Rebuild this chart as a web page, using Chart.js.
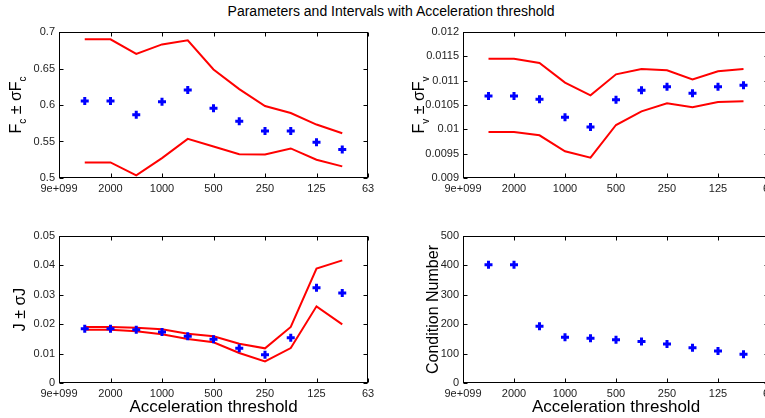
<!DOCTYPE html>
<html>
<head>
<meta charset="utf-8">
<script src="https://cdn.jsdelivr.net/npm/chart.js@4"></script>
<style>
  html, body { margin: 0; padding: 0; background: #fff; overflow: hidden; }
  body { width: 765px; height: 418px; position: relative; font-family: "Liberation Sans", Arial, sans-serif; }
  canvas { position: absolute; }
  #title { position: absolute; left: 0; width: 782px; top: 3px; text-align: center; font-size: 14px; line-height: 16px; color: #000; }
</style>
</head>
<body>
<div id="title">Parameters and Intervals with Acceleration threshold</div>
<canvas id="fc-chart" width="380" height="178" style="left:0;top:20px"></canvas>
<canvas id="fv-chart" width="377" height="178" style="left:404px;top:20px"></canvas>
<canvas id="j-chart" width="380" height="194" style="left:0;top:224px"></canvas>
<canvas id="cond-chart" width="377" height="194" style="left:404px;top:224px"></canvas>
<script>
const FONT = '"Liberation Sans", Arial, sans-serif';

// x axis: tick labels at every second step, points sit on the half steps
const tickLabels = ["9e+099", "2000", "1000", "500", "250", "125", "63"];
const steps = [1, 2, 3, 4, 5, 6, 7, 8, 9, 10, 11];

const fcMean  = [0.6055, 0.6055, 0.5868, 0.6045, 0.6205, 0.5955, 0.5777, 0.5645, 0.5645, 0.5490, 0.5390];
const fcUpper = [0.6900, 0.6900, 0.6700, 0.6830, 0.6886, 0.6486, 0.6218, 0.5986, 0.5890, 0.5732, 0.5614];
const fcLower = [0.5214, 0.5214, 0.5036, 0.5273, 0.5536, 0.5432, 0.5327, 0.5323, 0.5405, 0.5250, 0.5159];

const fvMean  = [0.010685, 0.010685, 0.010616, 0.010247, 0.010048, 0.010610, 0.010801, 0.010877, 0.010740, 0.010877, 0.010904];
const fvUpper = [0.011452, 0.011452, 0.011363, 0.010959, 0.010699, 0.011130, 0.011240, 0.011212, 0.011027, 0.011192, 0.011240];
const fvLower = [0.009945, 0.009945, 0.009877, 0.009548, 0.009418, 0.010089, 0.010370, 0.010534, 0.010452, 0.010562, 0.010575];

const jMean  = [0.01848, 0.01848, 0.01814, 0.01735, 0.01587, 0.01485, 0.01179, 0.00964, 0.01542, 0.03243, 0.03061];
const jUpper = [0.01905, 0.01905, 0.01882, 0.01825, 0.01678, 0.01587, 0.01338, 0.01179, 0.01905, 0.03889, 0.04172];
const jLower = [0.01814, 0.01814, 0.01757, 0.01655, 0.01497, 0.01383, 0.01020, 0.00737, 0.01190, 0.02608, 0.01995];

const condNum = [402, 402, 193, 156, 152, 147, 141, 133, 120, 109, 98];

function points(values) {
    return values.map((v, i) => ({ x: steps[i], y: v }));
}

// matlab style box with inward tick marks
const boxTicks = {
    id: "boxTicks",
    afterDraw(chart) {
        const { ctx, chartArea: a, scales: { x, y } } = chart;
        const L = Math.round(a.left) + 0.5, R = Math.round(a.right) - 0.5;
        const T = Math.round(a.top) + 0.5, B = Math.round(a.bottom) - 0.5;
        ctx.save();
        ctx.strokeStyle = "#000";
        ctx.lineWidth = 1;
        ctx.strokeRect(L, T, R - L, B - T);
        ctx.beginPath();
        x.ticks.forEach(t => {
            const px = Math.round(x.getPixelForValue(t.value)) + 0.5;
            ctx.moveTo(px, B); ctx.lineTo(px, B - 4);
            ctx.moveTo(px, T); ctx.lineTo(px, T + 4);
        });
        y.ticks.forEach(t => {
            const py = Math.round(y.getPixelForValue(t.value)) + 0.5;
            ctx.moveTo(L, py); ctx.lineTo(L + 4, py);
            ctx.moveTo(R, py); ctx.lineTo(R - 4, py);
        });
        ctx.stroke();
        ctx.restore();
    }
};

// rotated y label with subscripts
const yLabel = {
    id: "yLabel",
    afterDraw(chart, args, opts) {
        if (!opts.parts) return;
        const { ctx, chartArea } = chart;
        const big = opts.size, small = Math.round(opts.size * 0.65);
        ctx.save();
        ctx.translate(opts.x, (chartArea.top + chartArea.bottom) / 2);
        ctx.rotate(-Math.PI / 2);
        ctx.fillStyle = "#000";
        ctx.textBaseline = "alphabetic";
        let total = 0;
        opts.parts.forEach(p => {
            ctx.font = (p.sub ? small : big) + "px " + FONT;
            total += ctx.measureText(p.t).width;
        });
        let cx = -total / 2;
        opts.parts.forEach(p => {
            ctx.font = (p.sub ? small : big) + "px " + FONT;
            ctx.fillText(p.t, cx, p.sub ? Math.round(small * 0.45) : 0);
            cx += ctx.measureText(p.t).width;
        });
        ctx.restore();
    }
};

function makeChart(id, cfg) {
    const datasets = [{
        data: points(cfg.mean),
        showLine: false,
        pointStyle: "cross",
        pointRadius: 4,
        pointBorderWidth: 3,
        borderColor: "#0000ff",
        backgroundColor: "#0000ff"
    }];
    (cfg.bands || []).forEach(band => {
        datasets.push({
            data: points(band),
            borderColor: "#ff0000",
            borderWidth: 2,
            pointRadius: 0,
            tension: 0,
            fill: false
        });
    });

    return new Chart(document.getElementById(id).getContext("2d"), {
        type: "line",
        data: { datasets: datasets },
        plugins: [boxTicks, yLabel],
        options: {
            responsive: false,
            animation: false,
            devicePixelRatio: 1,
            layout: { padding: { top: 12, right: 12, left: 0, bottom: 0 } },
            plugins: {
                legend: { display: false },
                tooltip: { enabled: false },
                yLabel: { parts: cfg.label, x: cfg.labelX, size: 16 }
            },
            scales: {
                x: {
                    type: "linear",
                    min: 0,
                    max: 12,
                    afterFit: s => { s.height = cfg.xHeight; },
                    grid: { display: false, drawTicks: false },
                    border: { display: false },
                    ticks: {
                        stepSize: 2,
                        padding: 4,
                        maxRotation: 0,
                        autoSkip: false,
                        color: "#222",
                        font: { size: 11, family: FONT },
                        callback: v => tickLabels[v / 2]
                    },
                    title: {
                        display: !!cfg.xTitle,
                        text: cfg.xTitle || "",
                        color: "#000",
                        font: { size: 17, family: FONT },
                        padding: 0
                    }
                },
                y: {
                    min: cfg.yMin,
                    max: cfg.yMax,
                    afterFit: s => { s.width = 59; },
                    grid: { display: false, drawTicks: false },
                    border: { display: false },
                    ticks: {
                        stepSize: cfg.yStep,
                        padding: 4,
                        color: "#222",
                        font: { size: 11, family: FONT },
                        callback: v => String(+v.toFixed(6))
                    }
                }
            }
        }
    });
}

makeChart("fc-chart", {
    mean: fcMean, bands: [fcUpper, fcLower],
    yMin: 0.5, yMax: 0.7, yStep: 0.05, xHeight: 20,
    labelX: 21,
    label: [{ t: "F" }, { t: "c", sub: true }, { t: " \u00b1 \u03c3F" }, { t: "c", sub: true }]
});

makeChart("fv-chart", {
    mean: fvMean, bands: [fvUpper, fvLower],
    yMin: 0.009, yMax: 0.012, yStep: 0.0005, xHeight: 20,
    labelX: 20,
    label: [{ t: "F" }, { t: "v", sub: true }, { t: " \u00b1 \u03c3F" }, { t: "v", sub: true }]
});

makeChart("j-chart", {
    mean: jMean, bands: [jUpper, jLower],
    yMin: 0, yMax: 0.05, yStep: 0.01, xHeight: 35,
    xTitle: "Acceleration threshold",
    labelX: 25,
    label: [{ t: "J \u00b1 \u03c3J" }]
});

makeChart("cond-chart", {
    mean: condNum,
    yMin: 0, yMax: 500, yStep: 100, xHeight: 35,
    xTitle: "Acceleration threshold",
    labelX: 34,
    label: [{ t: "Condition Number" }]
});
</script>
</body>
</html>
